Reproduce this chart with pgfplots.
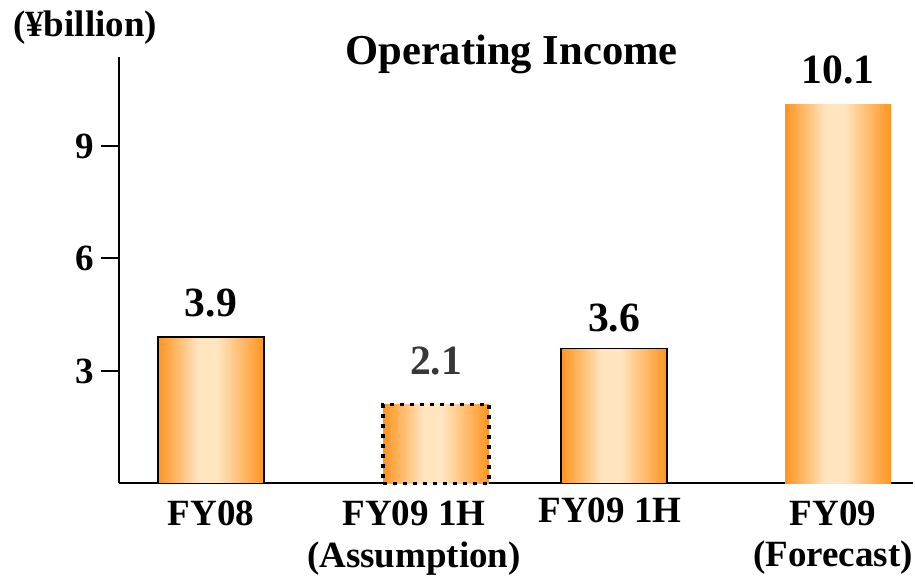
\documentclass[border=0pt]{standalone}
\usepackage{fontspec}
\setmainfont{Liberation Serif}
\usepackage{pgfplots}
\pgfplotsset{compat=1.18}
\definecolor{barorange}{RGB}{255,148,30}
\definecolor{barlight}{RGB}{255,229,192}
\definecolor{valgray}{RGB}{55,55,55}
% TikZ maps the 25bp..75bp band of a shading onto the path
\pgfdeclarehorizontalshading{barshade}{100bp}{%
  color(0bp)=(barorange); color(25bp)=(barorange); color(44bp)=(barlight);
  color(53bp)=(barlight); color(75bp)=(barorange); color(100bp)=(barorange)}
\newcommand{\lbl}{\fontsize{18.5}{21}\selectfont\bfseries}
\newcommand{\val}{\fontsize{20.8}{23}\selectfont\bfseries}
\begin{document}
\begin{tikzpicture}
\useasboundingbox (-59.5pt,-46.75pt) rectangle (398pt,241.75pt);
\begin{axis}[
    scale only axis,
    width=397pt, height=213.25pt,
    xmin=119, xmax=913,
    ymin=0, ymax=11.373,
    axis lines=left,
    axis line style={-, line width=1pt},
    xtick=\empty,
    ytick={3,6,9},
    tick align=outside,
    major tick length=9pt,
    ytick style={line width=1pt, black},
    yticklabel style={font=\lbl, /pgf/number format/assume math mode=true},
    clip=false,
    point meta=explicit symbolic,
    nodes near coords={\pgfplotspointmeta},
    every node near coord/.append style={font=\val, anchor=south, inner sep=0pt},
]
% FY08
\addplot[ybar, bar width=53pt, bar shift=0pt, draw=black, line width=0.9pt,
    shade, shading=barshade,
    every node near coord/.append style={yshift=9.5pt}]
    coordinates {(211,3.9) [3.9]};
% FY09 1H (Assumption)
\addplot[ybar, bar width=53pt, bar shift=0pt, draw=black, line width=1.6pt,
    dash pattern=on 2pt off 3pt, shade, shading=barshade,
    every node near coord/.append style={yshift=14pt, text=valgray}]
    coordinates {(436,2.1) [2.1]};
% FY09 1H
\addplot[ybar, bar width=53pt, bar shift=0pt, draw=black, line width=0.9pt,
    shade, shading=barshade,
    every node near coord/.append style={yshift=8pt}]
    coordinates {(614,3.6) [3.6]};
% FY09 (Forecast)
\addplot[ybar, bar width=53pt, bar shift=0pt, draw=none,
    shade, shading=barshade,
    every node near coord/.append style={yshift=10pt}]
    coordinates {(838,10.1) [10.1]};

\node[anchor=base, font=\fontsize{21.3}{24}\selectfont\bfseries] at (axis cs:511.5,11.16) {Operating Income};
\node[anchor=base, font=\lbl] at (axis cs:85,11.907) {(¥billion)};
\node[anchor=base, font=\lbl] at (axis cs:211,-1.107) {FY08};
\node[anchor=base, font=\lbl] at (axis cs:414,-1.107) {FY09 1H};
\node[anchor=base, font=\lbl] at (axis cs:414,-2.253) {(Assumption)};
\node[anchor=base, font=\lbl] at (axis cs:610,-1.053) {FY09 1H};
\node[anchor=base, font=\lbl] at (axis cs:833,-1.133) {FY09};
\node[anchor=base, font=\lbl] at (axis cs:833,-2.2) {(Forecast)};
\end{axis}
\end{tikzpicture}
\end{document}
